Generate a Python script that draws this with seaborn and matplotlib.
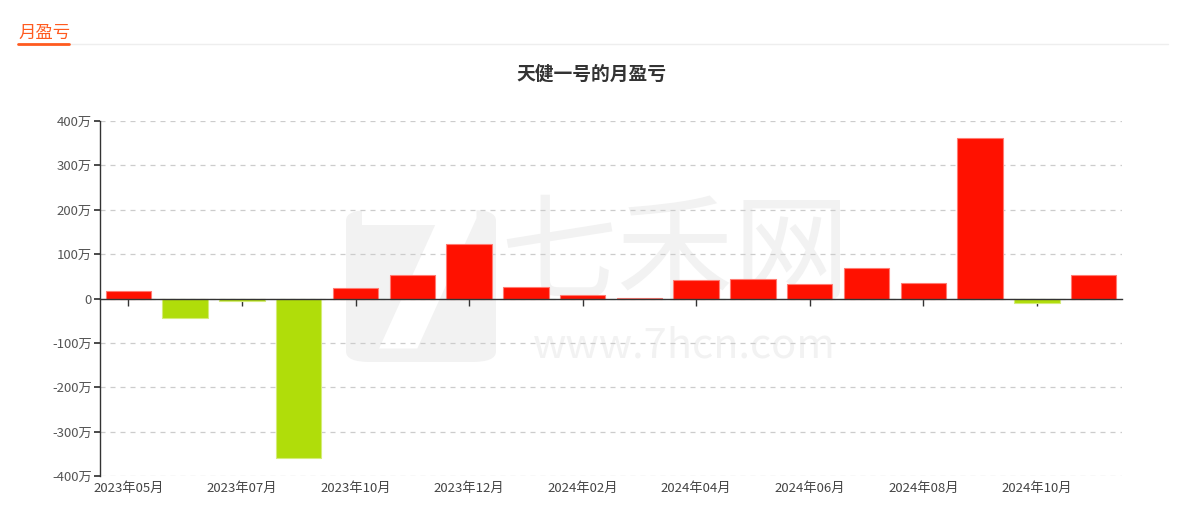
import matplotlib
matplotlib.use("Agg")
import matplotlib.pyplot as plt
import seaborn as sns
import pandas as pd
import numpy as np
from matplotlib.lines import Line2D
from matplotlib.patches import FancyBboxPatch

months = ["2023年05月", "2023年06月", "2023年07月", "2023年08月", "2023年10月", "2023年11月",
          "2023年12月", "2024年01月", "2024年02月", "2024年03月", "2024年04月", "2024年05月",
          "2024年06月", "2024年07月", "2024年08月", "2024年09月", "2024年10月", "2024年11月"]
profit = [18, -45, -6, -360, 24, 53, 123, 25, 8, 1, 42, 44, 33, 69, 35, 362, -11, 54]  # 万
yticks = [-400, -300, -200, -100, 0, 100, 200, 300, 400]
ytick_labels = ["-400万", "-300万", "-200万", "-100万", "0", "100万", "200万", "300万", "400万"]
title = "天健一号的月盈亏"
header = "月盈亏"

sns.set_theme(style="white")
plt.rcParams['font.family'] = ['Noto Sans CJK SC', 'DejaVu Sans']
plt.rcParams['axes.unicode_minus'] = False

df = pd.DataFrame({"month": months, "profit": profit})
df["sign"] = np.where(df["profit"] >= 0, "pos", "neg")

W, H = 1188, 530
fig = plt.figure(figsize=(W/100, H/100), dpi=100)
ax = fig.add_axes([100/W, 1-476/H, (1122-100)/W, (476-121)/H])
ax.patch.set_alpha(0)

# watermark (behind the axes)
wm = "#f2f2f2"
fig.add_artist(FancyBboxPatch((346/W, 1-362/H), 150/W, 152/H,
                              boxstyle="round,pad=0,rounding_size=0.02",
                              transform=fig.transFigure, facecolor=wm, edgecolor="none", zorder=-5))
fig.text(421/W, 1-290/H, "7", fontsize=150, fontweight="bold", color="white",
         ha="center", va="center", zorder=-4, family="DejaVu Sans")
fig.text(675/W, 1-258/H, "七禾网", fontsize=84, color=wm, ha="center", va="center", zorder=-4)
fig.text(684/W, 1-346/H, "www.7hcn.com", fontsize=30, color=wm, ha="center", va="center", zorder=-4)

sns.barplot(data=df, x="month", y="profit", hue="sign",
            palette={"pos": "#ff1100", "neg": "#b0dd0a"}, dodge=False, width=0.8,
            saturation=1, legend=False, ax=ax, zorder=3)
for p in ax.patches:
    c = np.array(p.get_facecolor())
    e = c.copy()
    e[:3] = c[:3]*0.55 + 0.45
    p.set_edgecolor(tuple(e))
    p.set_linewidth(0.8)

ax.set_ylim(-400, 400)
ax.set_xlim(-0.5, len(months)-0.5)
ax.set_yticks(yticks)
ax.set_yticklabels(ytick_labels, fontsize=9.5, color="#555555")
ax.yaxis.grid(True, linestyle=(0, (4, 4)), color="#cccccc", linewidth=0.9)
ax.set_axisbelow(True)
ax.tick_params(axis="y", length=4, color="#333333", pad=2, left=True)
ax.set_xlabel("")
ax.set_ylabel("")
for s in ["top", "right"]:
    ax.spines[s].set_visible(False)
ax.spines["left"].set_color("#333333")
ax.spines["left"].set_linewidth(1)

xt = list(range(0, len(months), 2))
# zero axis line with tick marks
ax.spines["bottom"].set_position(("data", 0))
ax.spines["bottom"].set_color("#333333")
ax.spines["bottom"].set_linewidth(1)
ax.spines["bottom"].set_zorder(5)
ax.set_xticks(xt)
ax.set_xticklabels([])
ax.tick_params(axis="x", direction="out", length=5, color="#333333", width=1, bottom=True)

# labels at bottom
sec = ax.secondary_xaxis(0)
sec.set_xticks(xt)
sec.set_xticklabels([months[i] for i in xt], fontsize=9.5, color="#444444")
sec.tick_params(axis="x", length=0, pad=4)
sec.spines["bottom"].set_visible(False)

fig.suptitle(title, x=591/W, y=1-74/H, va="center", fontsize=13.5, fontweight="bold", color="#333333")

# header
fig.text(18/W, 1-33/H, header, fontsize=12.5, color="#ff5a1f", va="center", ha="left")
fig.add_artist(Line2D([18/W, 1168/W], [1-44/H, 1-44/H], color="#eeeeee", linewidth=1))
fig.add_artist(Line2D([18/W, 69/W], [1-43.5/H, 1-43.5/H], color="#ff5a1f", linewidth=2))

fig.savefig("out.png", dpi=100, facecolor="white")
